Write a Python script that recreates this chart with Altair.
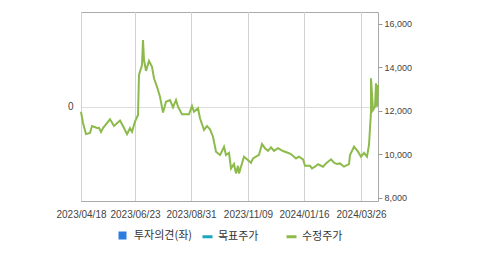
import altair as alt
import pandas as pd

dates = [
    "2023-04-18", "2023-04-21", "2023-04-24", "2023-04-29", "2023-05-02", "2023-05-07", "2023-05-10", "2023-05-13", "2023-05-15", "2023-05-23",
    "2023-05-28", "2023-06-05", "2023-06-09", "2023-06-13", "2023-06-17", "2023-06-20", "2023-06-23", "2023-06-27", "2023-06-28", "2023-07-02",
    "2023-07-03", "2023-07-04", "2023-07-07", "2023-07-10", "2023-07-14", "2023-07-17", "2023-07-20", "2023-07-24", "2023-07-28", "2023-07-31",
    "2023-08-05", "2023-08-09", "2023-08-13", "2023-08-15", "2023-08-20", "2023-08-28", "2023-09-01", "2023-09-04", "2023-09-08", "2023-09-11",
    "2023-09-16", "2023-09-19", "2023-09-23", "2023-09-27", "2023-10-01", "2023-10-05", "2023-10-07", "2023-10-10", "2023-10-13", "2023-10-16",
    "2023-10-19", "2023-10-22", "2023-10-25", "2023-10-27", "2023-10-29", "2023-10-31", "2023-11-04", "2023-11-08", "2023-11-12", "2023-11-15",
    "2023-11-22", "2023-11-26", "2023-11-30", "2023-12-03", "2023-12-07", "2023-12-10", "2023-12-16", "2023-12-22", "2023-12-29", "2024-01-02",
    "2024-01-06", "2024-01-10", "2024-01-15", "2024-01-17", "2024-01-24", "2024-01-26", "2024-01-30", "2024-02-03", "2024-02-08", "2024-02-12",
    "2024-02-18", "2024-02-22", "2024-02-26", "2024-03-01", "2024-03-05", "2024-03-11", "2024-03-13", "2024-03-18", "2024-03-22", "2024-03-26",
    "2024-03-30", "2024-04-02", "2024-04-05", "2024-04-07", "2024-04-08", "2024-04-10", "2024-04-12", "2024-04-14", "2024-04-15", "2024-04-16",
]
prices = [
    11960, 11440, 10930, 10980, 11300, 11210, 11220, 11030, 11210, 11610,
    11300, 11550, 11300, 10920, 11200, 11040, 11500, 11810, 13650, 14110,
    15260, 14340, 13840, 14300, 14030, 13500, 13110, 12650, 11920, 12420,
    12500, 12160, 12500, 12190, 11840, 11840, 12220, 11960, 12120, 11660,
    11120, 11300, 11150, 10810, 10120, 9970, 10050, 10350, 9970, 10070,
    9350, 9550, 9120, 9470, 9120, 9430, 9890, 9770, 9610, 9810,
    9970, 10470, 10280, 10160, 10320, 10160, 10280, 10150, 10050, 9970,
    9810, 9890, 9770, 9470, 9470, 9350, 9430, 9540, 9430, 9580,
    9770, 9610, 9550, 9580, 9430, 9550, 9970, 10350, 10120, 9890,
    10070, 9890, 10430, 11960, 13500, 12040, 12190, 13270, 12190, 13190,
]

x_domain = ["2023-04-18", "2024-04-16"]
x_ticks = ["2023-04-18", "2023-06-23", "2023-08-31", "2023-11-09", "2024-01-16", "2024-03-26"]
price_domain = [7850, 16550]
price_ticks = [8000, 10000, 12000, 14000, 16000]
opinion_domain = [-1, 1]
opinion_ticks = [0]
line_names = ["목표주가", "수정주가"]
line_colors = ["#1aa6bd", "#8cbb4b"]
opinion_names = ["투자의견(좌)"]
opinion_colors = ["#2c7be0"]

GRID = "#dddddd"
VGRID = "#d2d2d2"


def dt(s):
    y, m, d = map(int, s.split("-"))
    return alt.DateTime(year=y, month=m, date=d)


price_df = pd.DataFrame({"date": dates, "price": prices, "series": line_names[1]})
op_df = pd.DataFrame({"date": [dates[0]], "opinion": [None], "series": opinion_names})
tick_df = pd.DataFrame({"date": x_ticks})

x_scale = alt.Scale(domain=[dt(s) for s in x_domain], round=True)


def x_axis():
    return alt.Axis(
        values=[dt(s) for s in x_ticks], format="%Y/%m/%d", grid=False,
        ticks=False, domain=False, labelPadding=8, labelFontSize=10,
        labelColor="#444444", labelFont="Liberation Sans", title=None,
        labelOverlap=False, labelFlush=False,
    )


vgrid = alt.Chart(tick_df).mark_rule(strokeWidth=1, xOffset=0.5, opacity=1).encode(
    x=alt.X("date:T", scale=x_scale, axis=x_axis()),
    color=alt.value(VGRID),
)

op = alt.Chart(op_df).mark_square(size=64, opacity=1).encode(
    x=alt.X("date:T", scale=x_scale, axis=x_axis()),
    y=alt.Y(
        "opinion:Q", scale=alt.Scale(domain=opinion_domain, nice=False),
        axis=alt.Axis(orient="left", values=opinion_ticks, grid=True, gridColor=GRID,
                      ticks=False, domain=False, labelPadding=8, labelFontSize=10,
                      labelColor="#444444", labelFont="Liberation Sans", title=None),
    ),
    fill=alt.Fill(
        "series:N", scale=alt.Scale(domain=opinion_names, range=opinion_colors),
        legend=alt.Legend(orient="none", legendX=36, legendY=218, title=None,
                          symbolType="square", symbolSize=64, symbolStrokeWidth=0,
                          symbolOpacity=1,
                          labelOffset=6, labelFont="Noto Sans CJK KR", labelFontSize=11,
                          labelColor="#333333", direction="horizontal"),
    ),
)

line = alt.Chart(price_df).mark_line(strokeWidth=2).encode(
    x=alt.X("date:T", scale=x_scale, axis=x_axis()),
    y=alt.Y(
        "price:Q", scale=alt.Scale(domain=price_domain, nice=False, zero=False),
        axis=alt.Axis(orient="right", values=price_ticks, format=",.0f", grid=False, domain=False,
                      tickSize=4, tickColor="#999999", labelPadding=2, labelFontSize=9,
                      labelColor="#444444", labelFont="Liberation Sans", title=None),
    ),
    stroke=alt.Stroke(
        "series:N", scale=alt.Scale(domain=line_names, range=line_colors),
        legend=alt.Legend(orient="none", legendX=120, legendY=218, title=None,
                          symbolType="stroke", symbolSize=100, symbolStrokeWidth=3,
                          labelOffset=4, columnPadding=21, labelFont="Noto Sans CJK KR",
                          labelFontSize=11, labelColor="#333333", direction="horizontal"),
    ),
)

chart = alt.layer(vgrid, op, line).resolve_scale(y="independent").properties(
    width=297, height=189,
    autosize=alt.AutoSizeParams(type="none"),
    padding={"left": 81, "top": 12, "right": 101, "bottom": 54},
).configure_view(stroke="#aaaaaa", strokeWidth=1)

chart.save("out.html", embed_options={"renderer": "svg", "actions": False})
